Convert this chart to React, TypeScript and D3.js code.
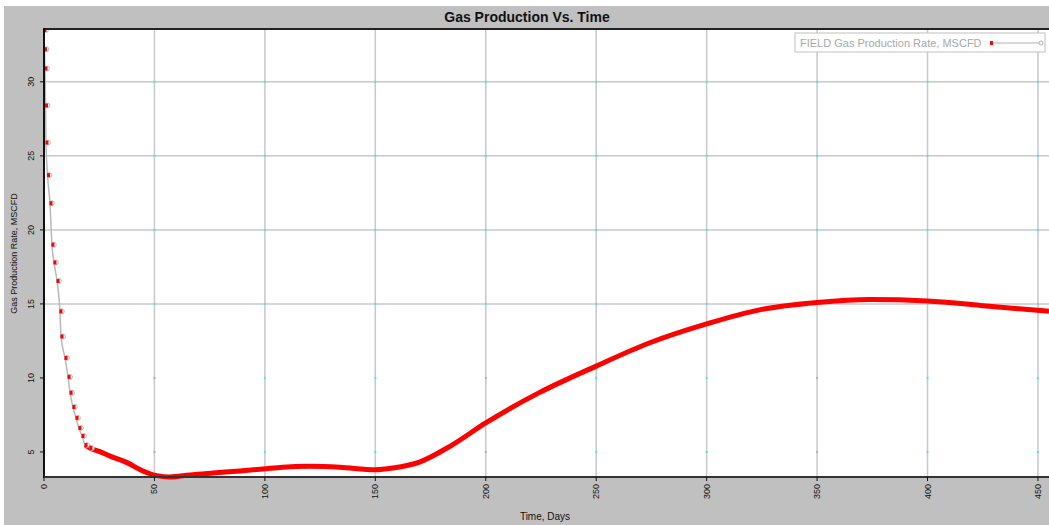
import React from "react";
import * as d3 from "d3";

// (time in days, rate in MSCFD)
const days = [0, 0.2, 0.45, 0.7, 0.9, 1.6, 2.7, 3.6, 4.5, 5.9, 7.2, 7.7, 9.5, 10.9, 11.8, 13.1, 14.5, 15.8, 17.2, 18.6, 20.8, 25.3, 29.9, 37.6, 44.8, 51.1, 57, 66, 76.5, 88.7, 99.1, 108, 120, 134, 150, 158, 170, 184, 200, 224, 250, 274, 300, 324, 350, 374, 400, 424, 455];
const rate = [33.5, 32.2, 30.9, 28.4, 25.9, 23.7, 21.8, 19.0, 17.8, 16.55, 14.5, 12.8, 11.35, 10.07, 9.0, 8.04, 7.3, 6.62, 6.08, 5.47, 5.27, 5.02, 4.72, 4.28, 3.72, 3.4, 3.31, 3.45, 3.58, 3.72, 3.85, 3.97, 4.03, 3.97, 3.8, 3.92, 4.32, 5.4, 6.96, 8.99, 10.8, 12.36, 13.65, 14.6, 15.1, 15.3, 15.2, 14.9, 14.5];

const xTicks = [0, 50, 100, 150, 200, 250, 300, 350, 400, 450];
const yTicks = [5, 10, 15, 20, 25, 30];
const yLinedTicks = [15, 20, 25, 30];

const W = 1049;
const H = 525;
const left = 44, right = 1049, top = 30, bottom = 477;
const font = "'Liberation Sans', Arial, sans-serif";

const App = () => {
  const x = d3.scaleLinear().domain([0, 455]).range([left, right]);
  const y = d3.scaleLinear().domain([3.31, 33.5]).range([bottom, top]);
  const pts = days.map((d, i) => [d, rate[i]] as [number, number]);

  const line = d3
    .line<[number, number]>()
    .x(d => x(d[0]))
    .y(d => y(d[1]))
    .curve(d3.curveMonotoneX);

  const thick = pts.filter(d => d[0] >= 18);

  return (
    <svg width={W} height={H} style={{ position: "absolute", left: 0, top: 0, fontFamily: font }}>
      <rect x={0} y={0} width={W} height={H} fill="#fff" />
      <rect x={4} y={6} width={W - 4} height={H - 6} fill="#c0c0c0" />
      <text x={527} y={22} textAnchor="middle" fontSize={14} fontWeight="bold" fill="#111">
        Gas Production Vs. Time
      </text>
      <rect x={left} y={top} width={right - left} height={bottom - top} fill="#fff" />

      {/* grid */}
      {xTicks.map(t => (
        <line key={"gx" + t} x1={x(t)} x2={x(t)} y1={top} y2={bottom} stroke="#c8c8c8" strokeWidth={1.5} />
      ))}
      {yLinedTicks.map(t => (
        <line key={"gy" + t} x1={left} x2={right} y1={y(t)} y2={y(t)} stroke="#c8c8c8" strokeWidth={1.5} />
      ))}
      {yTicks.map(t =>
        xTicks.map(s => (
          <rect key={"d" + t + "_" + s} x={x(s) - 1} y={y(t) - 1} width={2} height={2}
            fill={yLinedTicks.includes(t) ? "#44e8f0" : (s / 50) % 3 === 1 ? "#b0b0b0" : "#44e8f0"} />
        ))
      )}

      {/* series */}
      <path d={line(pts) || ""} fill="none" stroke="#b8b8b8" strokeWidth={1.5} />
      <path d={line(thick) || ""} fill="none" stroke="#ff0000" strokeWidth={5} />
      {pts.filter(d => d[0] < 25).map((d, i) => (
        <g key={"m" + i}>
          <circle cx={x(d[0]) + 2} cy={y(d[1])} r={2.4} fill="#fff" stroke="#b8b8b8" strokeWidth={1} />
          <rect x={x(d[0]) - 0.5} y={y(d[1]) - 2} width={3} height={4} fill="#ff0000" />
        </g>
      ))}

      {/* legend */}
      <rect x={795} y={33} width={250} height={19} fill="#fff" stroke="#c0c0c0" />
      <text x={800} y={47} fontSize={11} fill="#a8a8a8">FIELD Gas Production Rate, MSCFD</text>
      <line x1={990} x2={1042} y1={43} y2={43} stroke="#b0b0b0" />
      <rect x={990} y={41} width={3} height={4} fill="#ff0000" />
      <circle cx={1041} cy={43} r={2} fill="#fff" stroke="#b0b0b0" />

      {/* axes */}
      <line x1={left} x2={right} y1={top - 1} y2={top - 1} stroke="#222" strokeWidth={2} />
      <line x1={left} x2={left} y1={top - 2} y2={bottom + 1} stroke="#111" strokeWidth={2} />
      <line x1={left} x2={right} y1={bottom} y2={bottom} stroke="#333" strokeWidth={2} />
      {xTicks.map(t => (
        <g key={"xt" + t} transform={`translate(${x(t)},${bottom})`}>
          <line y1={0} y2={4} stroke="#111" />
          <text transform="translate(3,7) rotate(-90)" textAnchor="end" fontSize={9} fill="#111">{t}</text>
        </g>
      ))}
      {yTicks.map(t => (
        <g key={"yt" + t} transform={`translate(${left},${y(t)})`}>
          <line x1={-4} x2={0} stroke="#111" />
          <text transform="translate(-10,0) rotate(-90)" textAnchor="middle" fontSize={9} fill="#111">{t}</text>
        </g>
      ))}
      <text x={545} y={520} textAnchor="middle" fontSize={10} fill="#111">Time, Days</text>
      <text transform={`translate(17,${(top + bottom) / 2}) rotate(-90)`} textAnchor="middle" fontSize={9} fill="#111">
        Gas Production Rate, MSCFD
      </text>
    </svg>
  );
};

export default App;
